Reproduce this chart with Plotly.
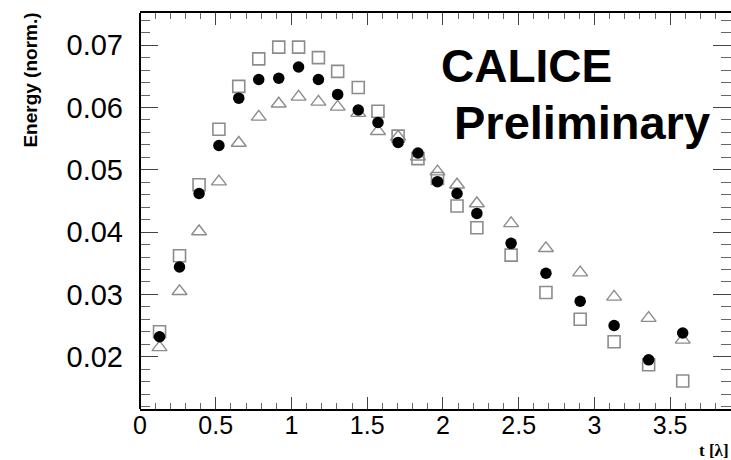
import plotly.graph_objects as go

# depth positions t [lambda]
t_vals = [0.129, 0.261, 0.390, 0.521, 0.652, 0.784, 0.916, 1.047, 1.178, 1.305,
          1.441, 1.571, 1.704, 1.835, 1.964, 2.093, 2.224, 2.450, 2.680, 2.906,
          3.130, 3.358, 3.583]

# black filled circles
circle_vals = [0.0232, 0.0344, 0.0462, 0.0539, 0.0615, 0.0645, 0.0647, 0.0665, 0.0645, 0.0621,
               0.0596, 0.0576, 0.0544, 0.0527, 0.0481, 0.0462, 0.0430, 0.0382, 0.0334, 0.0289,
               0.0250, 0.0195, 0.0238]
# open grey squares
square_vals = [0.0240, 0.0362, 0.0476, 0.0565, 0.0634, 0.0678, 0.0697, 0.0697, 0.0680, 0.0658,
               0.0632, 0.0594, 0.0554, 0.0518, 0.0486, 0.0442, 0.0407, 0.0363, 0.0303, 0.0260,
               0.0224, 0.0187, 0.0161]
# open grey triangles
triangle_vals = [0.0215, 0.0305, 0.0401, 0.0481, 0.0543, 0.0585, 0.0606, 0.0617, 0.0609, 0.0601,
                 0.0591, 0.0562, 0.0553, 0.0521, 0.0497, 0.0476, 0.0446, 0.0414, 0.0374, 0.0335,
                 0.0296, 0.0262, 0.0227]

W, H = 731, 460
L, T, B = 139.5, 13, 51
plot_w = W - L
plot_h = H - T - B

fig = go.Figure()
fig.add_trace(go.Scatter(x=t_vals, y=square_vals, mode="markers",
                         marker=dict(symbol="square-open", size=12, color="#8c8c8c",
                                     line=dict(width=1.6, color="#8c8c8c")),
                         showlegend=False, cliponaxis=False, hoverinfo="skip"))
fig.add_trace(go.Scatter(x=t_vals, y=triangle_vals, mode="markers",
                         marker=dict(symbol="triangle-up-open", size=13, color="#8c8c8c",
                                     line=dict(width=1.4, color="#8c8c8c")),
                         showlegend=False, cliponaxis=False, hoverinfo="skip"))
fig.add_trace(go.Scatter(x=t_vals, y=circle_vals, mode="markers",
                         marker=dict(symbol="circle", size=11.5, color="black",
                                     line=dict(width=0)),
                         showlegend=False, cliponaxis=False, hoverinfo="skip"))

fig.update_layout(
    width=W, height=H,
    margin=dict(l=L, r=0, t=T, b=B, pad=0, autoexpand=False),
    paper_bgcolor="white", plot_bgcolor="white",
    font=dict(family="Liberation Sans, Arial", color="black"),
    xaxis=dict(range=[0, plot_w / 151.6], showgrid=False, zeroline=False, automargin=False,
               showline=True, linecolor="black", linewidth=2, mirror="ticks",
               ticks="inside", ticklen=12, tickwidth=1.3, tickcolor="#444",
               tick0=0, dtick=0.5, ticklabelstandoff=-7,
               minor=dict(ticks="inside", ticklen=6, tickwidth=1, tickcolor="#666", dtick=0.1),
               tickfont=dict(size=25, family="Liberation Sans, Arial", color="black")),
    yaxis=dict(range=[0.011605, 0.07517], showgrid=False, zeroline=False, automargin=False,
               showline=False, mirror="ticks",
               ticks="inside", ticklen=18, tickwidth=1.3, tickcolor="#444",
               tick0=0, dtick=0.01, ticklabelstandoff=16,
               minor=dict(ticks="inside", ticklen=10, tickwidth=1, tickcolor="#666", dtick=0.002),
               tickfont=dict(size=29, family="Liberation Sans, Arial", color="black")),
)

# left frame line (right side is cut off in the reference)
fig.add_shape(type="line", xref="paper", yref="paper", x0=0, x1=0, y0=0, y1=1,
              line=dict(color="black", width=2))

def px_x(px):
    return (px - L) / plot_w

def px_y(py):
    return (H - B - py) / plot_h

fig.add_annotation(text="<b>CALICE</b>", xref="paper", yref="paper",
                   x=px_x(439), y=px_y(66.5), xanchor="left", yanchor="middle",
                   showarrow=False, font=dict(size=46, family="Liberation Sans, Arial", color="black"))
fig.add_annotation(text="<b>Preliminary</b>", xref="paper", yref="paper",
                   x=px_x(452), y=px_y(122), xanchor="left", yanchor="middle",
                   showarrow=False, font=dict(size=47, family="Liberation Sans, Arial", color="black"))
fig.add_annotation(text="<b>Energy (norm.)</b>", xref="paper", yref="paper",
                   x=px_x(29), y=px_y(80), xanchor="center", yanchor="middle", textangle=-90,
                   showarrow=False, font=dict(size=19, family="Liberation Sans, Arial", color="black"))
fig.add_annotation(text="<b>t [λ]</b>", xref="paper", yref="paper",
                   x=px_x(731), y=px_y(450), xanchor="right", yanchor="middle",
                   showarrow=False, font=dict(size=17, family="Liberation Serif, Times New Roman", color="black"))

fig.write_html("out.html", config={"displayModeBar": False},
               post_script="document.body.style.margin='0px';document.body.style.overflow='hidden';")
